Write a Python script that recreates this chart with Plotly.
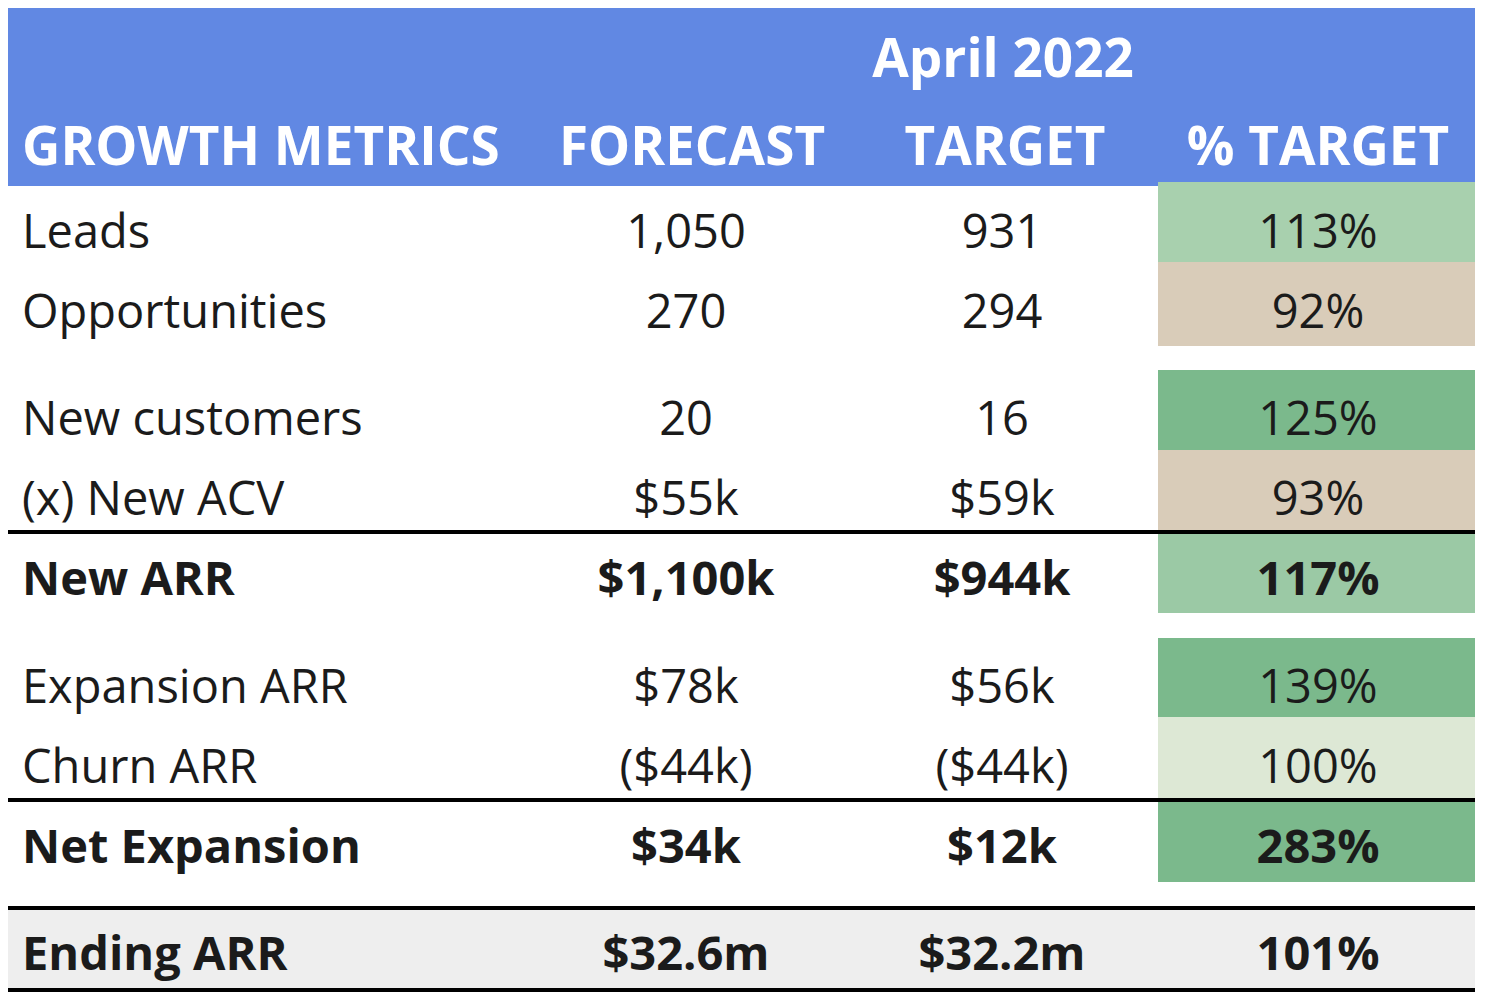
import plotly.graph_objects as go

# ---------------- data ----------------
period = "April 2022"
col_headers = ["GROWTH METRICS", "FORECAST", "TARGET", "% TARGET"]
metrics = ["Leads", "Opportunities", "New customers", "(x) New ACV", "New ARR",
           "Expansion ARR", "Churn ARR", "Net Expansion", "Ending ARR"]
forecast = ["1,050", "270", "20", "$55k", "$1,100k", "$78k", "($44k)", "$34k", "$32.6m"]
target = ["931", "294", "16", "$59k", "$944k", "$56k", "($44k)", "$12k", "$32.2m"]
pct_target = [113, 92, 125, 93, 117, 139, 100, 283, 101]
is_total = [False, False, False, False, True, False, False, True, True]

# ---------------- layout / style (not data) ----------------
PAGE_OFF = 8          # default body margin of the html page
W, H = 1488, 1000
FONT = "Open Sans"
BODY = 47
HEAD = 53
TXT = "#1b1b1b"
BLUE = "#6188E3"
pct_colors = ["#A8D0AE", "#D9CCB9", "#7BB98C", "#D9CCB9", "#9BC9A5",
              "#7BB98C", "#DDE8D5", "#7BB98C", "#EEEEEE"]
row_top = [182, 262, 370, 450, 532, 638, 717, 800, 908]
row_bot = [262, 346, 450, 532, 613, 717, 800, 882, 990]
text_y = [236, 316, 423, 503, 583, 691, 771, 851, 958]
x_left, x_right = 5, 1475
pct_x0 = 1158
col_x = [22, 686, 1002, 1318]
head_x = [22, 692, 1005, 1318]
head_y = 152
period_x, period_y = 1003, 64
rule_y = [532, 800, 908, 990]

fig = go.Figure()

shapes = []
shapes.append(dict(type="rect", xref="x", yref="y", x0=x_left, x1=x_right, y0=6, y1=186,
                   fillcolor=BLUE, line_width=0, layer="below"))
last = len(metrics) - 1
shapes.append(dict(type="rect", xref="x", yref="y", x0=x_left, x1=x_right,
                   y0=row_top[last], y1=row_bot[last], fillcolor=pct_colors[last],
                   line_width=0, layer="below"))
for i in range(last):
    shapes.append(dict(type="rect", xref="x", yref="y", x0=pct_x0, x1=x_right,
                       y0=row_top[i], y1=row_bot[i], fillcolor=pct_colors[i],
                       line_width=0, layer="below"))
for y in rule_y:
    shapes.append(dict(type="line", xref="x", yref="y", x0=x_left, x1=x_right, y0=y, y1=y,
                       line=dict(color="#000000", width=4)))


def fmt(s, b):
    return f"<b>{s}</b>" if b else s


fig.add_trace(go.Scatter(
    x=[col_x[0]] * len(metrics), y=text_y, mode="text",
    text=[fmt(m, b) for m, b in zip(metrics, is_total)],
    textposition="middle right",
    textfont=dict(family=FONT, size=BODY, color=TXT), hoverinfo="skip", showlegend=False))
for cx, vals in ((col_x[1], forecast), (col_x[2], target)):
    fig.add_trace(go.Scatter(
        x=[cx] * len(vals), y=text_y, mode="text",
        text=[fmt(v, b) for v, b in zip(vals, is_total)],
        textposition="middle center",
        textfont=dict(family=FONT, size=BODY, color=TXT), hoverinfo="skip", showlegend=False))
fig.add_trace(go.Scatter(
    x=[col_x[3]] * len(pct_target), y=text_y, mode="text",
    text=[fmt(f"{v}%", b) for v, b in zip(pct_target, is_total)],
    textposition="middle center",
    textfont=dict(family=FONT, size=BODY, color=TXT), hoverinfo="skip", showlegend=False))

fig.add_trace(go.Scatter(
    x=[head_x[0]], y=[head_y], mode="text", text=[f"<b>{col_headers[0]}</b>"],
    textposition="middle right",
    textfont=dict(family=FONT, size=HEAD, color="white"), hoverinfo="skip", showlegend=False))
fig.add_trace(go.Scatter(
    x=head_x[1:], y=[head_y] * 3, mode="text",
    text=[f"<b>{h}</b>" for h in col_headers[1:]],
    textposition="middle center",
    textfont=dict(family=FONT, size=HEAD, color="white"), hoverinfo="skip", showlegend=False))
fig.add_trace(go.Scatter(
    x=[period_x], y=[period_y], mode="text", text=[f"<b>{period}</b>"],
    textposition="middle center",
    textfont=dict(family=FONT, size=HEAD, color="white"), hoverinfo="skip", showlegend=False))

fig.update_layout(
    width=W - PAGE_OFF, height=H - PAGE_OFF, margin=dict(l=0, r=0, t=0, b=0),
    paper_bgcolor="white", plot_bgcolor="white", shapes=shapes,
    xaxis=dict(range=[PAGE_OFF, W], visible=False, fixedrange=True),
    yaxis=dict(range=[H, PAGE_OFF], visible=False, fixedrange=True),
)
fig.write_html("out.html")
